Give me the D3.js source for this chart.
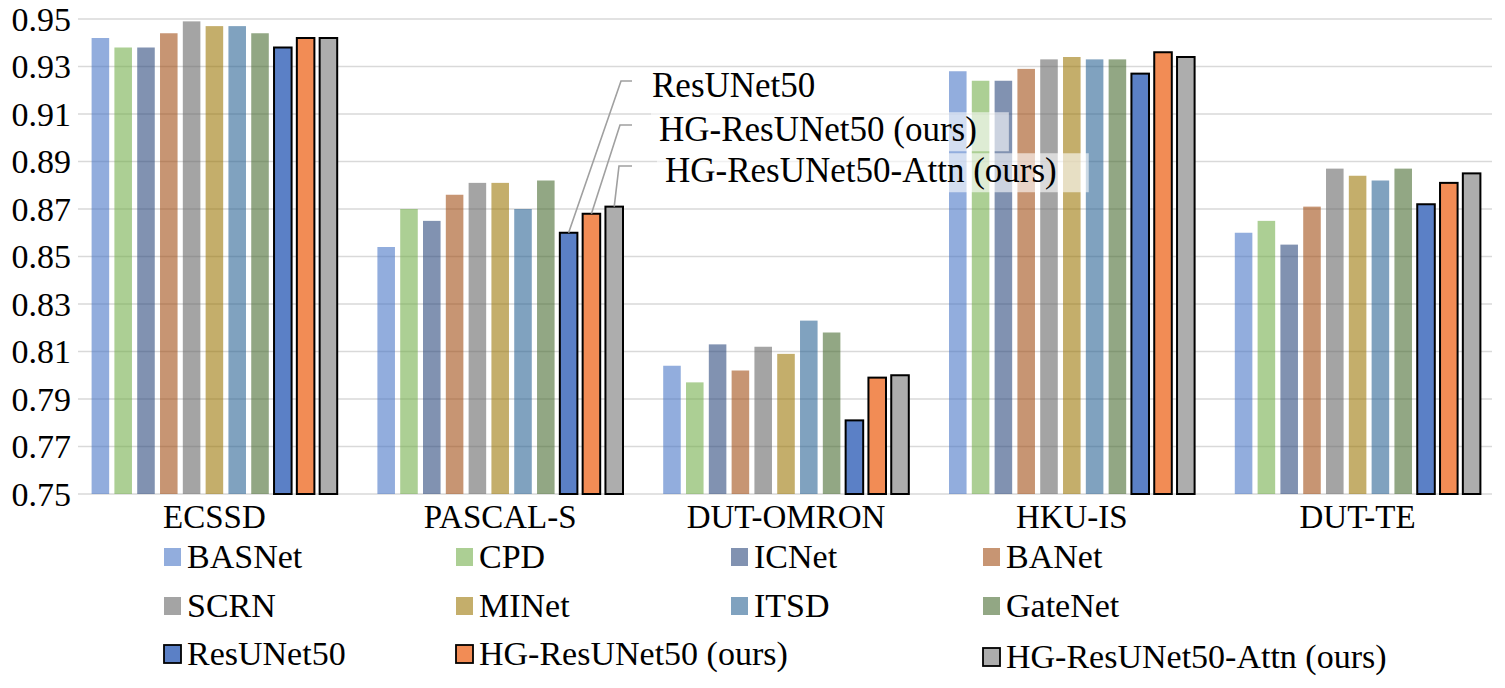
<!DOCTYPE html>
<html>
<head>
<meta charset="utf-8">
<script src="https://cdn.jsdelivr.net/npm/d3@7"></script>
<style>
  body { margin: 0; background: #fff; }
</style>
</head>
<body>
<div id="chart"></div>
<script>
var datasets = ["ECSSD", "PASCAL-S", "DUT-OMRON", "HKU-IS", "DUT-TE"];
var methods = ["BASNet", "CPD", "ICNet", "BANet", "SCRN", "MINet", "ITSD", "GateNet",
  "ResUNet50", "HG-ResUNet50 (ours)", "HG-ResUNet50-Attn (ours)"];

// one array per method, values in dataset order
var basnet   = [0.942, 0.854, 0.804, 0.928, 0.860];
var cpd      = [0.938, 0.870, 0.797, 0.924, 0.865];
var icnet    = [0.938, 0.865, 0.813, 0.924, 0.855];
var banet    = [0.944, 0.876, 0.802, 0.929, 0.871];
var scrn     = [0.949, 0.881, 0.812, 0.933, 0.887];
var minet    = [0.947, 0.881, 0.809, 0.934, 0.884];
var itsd     = [0.947, 0.870, 0.823, 0.933, 0.882];
var gatenet  = [0.944, 0.882, 0.818, 0.933, 0.887];
var resunet  = [0.938, 0.860, 0.781, 0.927, 0.872];
var hgres    = [0.942, 0.868, 0.799, 0.936, 0.881];
var hgattn   = [0.942, 0.871, 0.800, 0.934, 0.885];
var yTicks = [0.75, 0.77, 0.79, 0.81, 0.83, 0.85, 0.87, 0.89, 0.91, 0.93, 0.95];

var values = [basnet, cpd, icnet, banet, scrn, minet, itsd, gatenet, resunet, hgres, hgattn];
var colors = ["#4472c4", "#70ad47", "#264478", "#9e480e", "#636363", "#997300", "#255e91", "#43682b",
  "#5b80c6", "#f28c55", "#adadad"];
var ours = [false, false, false, false, false, false, false, false, true, true, true];

var serif = "'Liberation Serif', 'Times New Roman', Times, serif";
var width = 1505, height = 688;
var svg = d3.select("#chart").append("svg")
  .attr("width", width).attr("height", height)
  .attr("font-family", serif);

var y = d3.scaleLinear().domain([0.75, 0.95]).range([494, 19]);
var x0 = d3.scaleBand().domain(datasets).range([71.5, 1500.5]).paddingInner(0);
var x1 = d3.scaleBand().domain(methods).range([-122.8, 122.8]).paddingInner(0.23);

// gridlines
svg.append("g").selectAll("line").data(yTicks).join("line")
  .attr("x1", 78).attr("x2", 1492)
  .attr("y1", d => y(d)).attr("y2", d => y(d))
  .attr("stroke", "#d9d9d9").attr("stroke-width", 1.6);

// y labels
svg.append("g").selectAll("text").data(yTicks).join("text")
  .attr("x", 71).attr("y", d => y(d))
  .attr("dy", "0.35em")
  .attr("text-anchor", "end")
  .attr("font-size", 34)
  .text(d => d.toFixed(2));

// category labels
svg.append("g").selectAll("text").data(datasets).join("text")
  .attr("x", d => x0(d) + x0.bandwidth() / 2)
  .attr("y", 528)
  .attr("text-anchor", "middle")
  .attr("font-size", 33)
  .text(d => d);

// bars
var groups = svg.append("g").selectAll("g").data(datasets).join("g")
  .attr("transform", d => "translate(" + (x0(d) + x0.bandwidth() / 2) + ",0)");

groups.selectAll("rect")
  .data((d, i) => methods.map((m, j) => ({ m: m, j: j, v: values[j][i] })))
  .join("rect")
  .attr("x", d => x1(d.m))
  .attr("width", x1.bandwidth())
  .attr("y", d => y(d.v))
  .attr("height", d => y(0.75) - y(d.v))
  .attr("fill", d => colors[d.j])
  .attr("fill-opacity", d => ours[d.j] ? 1 : 0.58)
  .attr("stroke", d => ours[d.j] ? "#000" : "none")
  .attr("stroke-width", 2);

// callout leaders (PASCAL-S, our three models)
var calloutY = [81, 125, 166];
var calloutLabelX = [652, 659, 665];
var callouts = svg.append("g");
[8, 9, 10].forEach(function(j, k) {
  var m = methods[j];
  var bx = x0("PASCAL-S") + x0.bandwidth() / 2 + x1(m) + x1.bandwidth() / 2;
  var by = y(values[j][1]);
  var pts = [[bx, by], [621 - k * 1, calloutY[k]], [632, calloutY[k]]];
  callouts.append("path")
    .attr("d", d3.line()(pts))
    .attr("fill", "none").attr("stroke", "#a0a0a0").attr("stroke-width", 1.6);
});
[8, 9, 10].forEach(function(j, k) {
  var g = callouts.append("g");
  var bg = g.append("rect");
  var t = g.append("text")
    .attr("x", calloutLabelX[k]).attr("y", calloutY[k] + 4)
    .attr("dy", "0.35em")
    .attr("font-size", 35)
    .text(methods[j]);
  var bb = t.node().getBBox();
  bg.attr("x", bb.x - 8).attr("y", bb.y + 2)
    .attr("width", bb.width + 40).attr("height", bb.height)
    .attr("fill", "#fff").attr("fill-opacity", 0.6);
});

// legend
var legCol = [0, 1, 2, 3, 0, 1, 2, 3, 0, 1, 3];
var legColX = [164, 456, 731, 983];
var legRowY = [557, 606, 654];
var legend = svg.append("g").selectAll("g").data(methods).join("g")
  .attr("transform", (d, i) => "translate(" + legColX[legCol[i]] + "," + (legRowY[Math.floor(i / 4)] + (i == 10 ? 3 : 0)) + ")");

legend.append("rect")
  .attr("x", 0).attr("y", -9).attr("width", 17).attr("height", 18)
  .attr("fill", (d, i) => colors[i])
  .attr("fill-opacity", (d, i) => ours[i] ? 1 : 0.58)
  .attr("stroke", (d, i) => ours[i] ? "#000" : "none")
  .attr("stroke-width", 1.8);

legend.append("text")
  .attr("x", 23).attr("y", 0)
  .attr("dy", "0.33em")
  .attr("font-size", 34)
  .text(d => d);
</script>
</body>
</html>
